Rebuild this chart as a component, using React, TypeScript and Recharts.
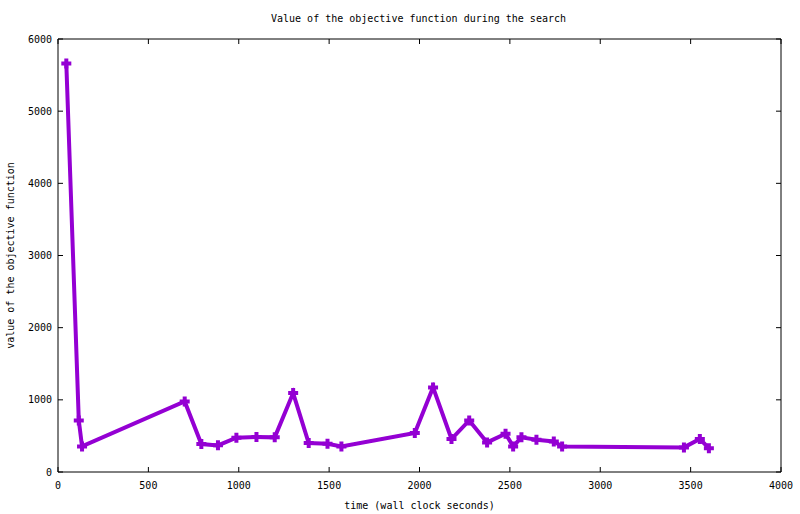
import React from 'react';
import { LineChart, Line, XAxis, YAxis } from 'recharts';

const times = [46, 115, 133, 701, 793, 885, 987, 1098, 1199, 1301, 1387, 1491, 1568, 1974, 2075, 2177, 2275, 2374, 2476, 2518, 2564, 2647, 2743, 2789, 3463, 3551, 3601];
const values = [5660, 715, 355, 978, 387, 369, 475, 485, 480, 1094, 401, 392, 355, 540, 1172, 457, 715, 410, 530, 355, 480, 447, 424, 355, 341, 457, 330];
const xTicks = [0, 500, 1000, 1500, 2000, 2500, 3000, 3500, 4000];
const yTicks = [0, 1000, 2000, 3000, 4000, 5000, 6000];

const TITLE = 'Value of the objective function during the search';
const X_LABEL = 'time (wall clock seconds)';
const Y_LABEL = 'value of the objective function';

const data = times.map((t, i) => ({ t, v: values[i] }));

const FONT = '"DejaVu Sans Mono", monospace';
const COLOR = '#9400D3';
const TICK = 5;

const BottomTick = (props: any) => {
  const { x, y, payload } = props;
  return (
    <g>
      <line x1={x} y1={y} x2={x} y2={y - TICK} stroke="#000" strokeWidth={1} />
      <text x={x} y={y + 17} textAnchor="middle" fontFamily={FONT} fontSize={10} fill="#000">
        {payload.value}
      </text>
    </g>
  );
};

const TopTick = (props: any) => {
  const { x, y } = props;
  return <line x1={x} y1={y} x2={x} y2={y + TICK} stroke="#000" strokeWidth={1} />;
};

const LeftTick = (props: any) => {
  const { x, y, payload } = props;
  return (
    <g>
      <line x1={x} y1={y} x2={x + TICK} y2={y} stroke="#000" strokeWidth={1} />
      <text x={x - 6} y={y + 3.5} textAnchor="end" fontFamily={FONT} fontSize={10} fill="#000">
        {payload.value}
      </text>
    </g>
  );
};

const RightTick = (props: any) => {
  const { x, y } = props;
  return <line x1={x} y1={y} x2={x - TICK} y2={y} stroke="#000" strokeWidth={1} />;
};

const PlusDot = (props: any) => {
  const { cx, cy, index } = props;
  if (cx == null || cy == null) return <g key={`d-${index}`} />;
  const a = 5;
  return (
    <path
      key={`d-${index}`}
      d={`M${cx - a},${cy}L${cx + a},${cy}M${cx},${cy - a}L${cx},${cy + a}`}
      stroke={COLOR}
      strokeWidth={4}
      fill="none"
    />
  );
};

const XLabel = (props: any) => {
  const { viewBox } = props;
  const cx = viewBox.x + viewBox.width / 2;
  return (
    <text x={cx} y={viewBox.y + 37} textAnchor="middle" fontFamily={FONT} fontSize={10} fill="#000">
      {X_LABEL}
    </text>
  );
};

const YLabel = (props: any) => {
  const { viewBox } = props;
  const cy = viewBox.y + viewBox.height / 2;
  const x = 14;
  return (
    <text
      x={x}
      y={cy}
      textAnchor="middle"
      fontFamily={FONT}
      fontSize={10}
      fill="#000"
      transform={`rotate(-90, ${x}, ${cy})`}
    >
      {Y_LABEL}
    </text>
  );
};

export default function App() {
  return (
    <div style={{ position: 'absolute', left: 0, top: 0, width: 800, height: 514, background: '#fff' }}>
      <div
        style={{
          position: 'absolute',
          left: 0,
          top: 13,
          width: 837,
          textAlign: 'center',
          fontFamily: FONT,
          fontSize: 10,
          lineHeight: '12px',
          color: '#000',
        }}
      >
        {TITLE}
      </div>
      <LineChart
        width={800}
        height={514}
        data={data}
        margin={{ top: 34, right: 14, bottom: 0, left: 0 }}
      >
        <XAxis
          xAxisId="b"
          dataKey="t"
          type="number"
          domain={[0, 4000]}
          ticks={xTicks}
          height={42}
          tickSize={0}
          tickMargin={0}
          tickLine={false}
          axisLine={{ stroke: '#000', strokeWidth: 1 }}
          tick={<BottomTick />}
          interval={0}
          allowDataOverflow
          label={<XLabel />}
        />
        <XAxis
          xAxisId="t"
          orientation="top"
          dataKey="t"
          type="number"
          domain={[0, 4000]}
          ticks={xTicks}
          height={5}
          tickSize={0}
          tickMargin={0}
          tickLine={false}
          axisLine={{ stroke: '#000', strokeWidth: 1 }}
          tick={<TopTick />}
          interval={0}
          allowDataOverflow
        />
        <YAxis
          yAxisId="l"
          type="number"
          domain={[0, 6000]}
          ticks={yTicks}
          width={58}
          tickSize={0}
          tickMargin={0}
          tickLine={false}
          axisLine={{ stroke: '#000', strokeWidth: 1 }}
          tick={<LeftTick />}
          interval={0}
          allowDataOverflow
          label={<YLabel />}
        />
        <YAxis
          yAxisId="r"
          orientation="right"
          type="number"
          domain={[0, 6000]}
          ticks={yTicks}
          width={5}
          tickSize={0}
          tickMargin={0}
          tickLine={false}
          axisLine={{ stroke: '#000', strokeWidth: 1 }}
          tick={<RightTick />}
          interval={0}
          allowDataOverflow
        />
        <Line
          xAxisId="b"
          yAxisId="l"
          type="linear"
          dataKey="v"
          stroke={COLOR}
          strokeWidth={4}
          dot={PlusDot}
          activeDot={false}
          isAnimationActive={false}
        />
      </LineChart>
    </div>
  );
}
